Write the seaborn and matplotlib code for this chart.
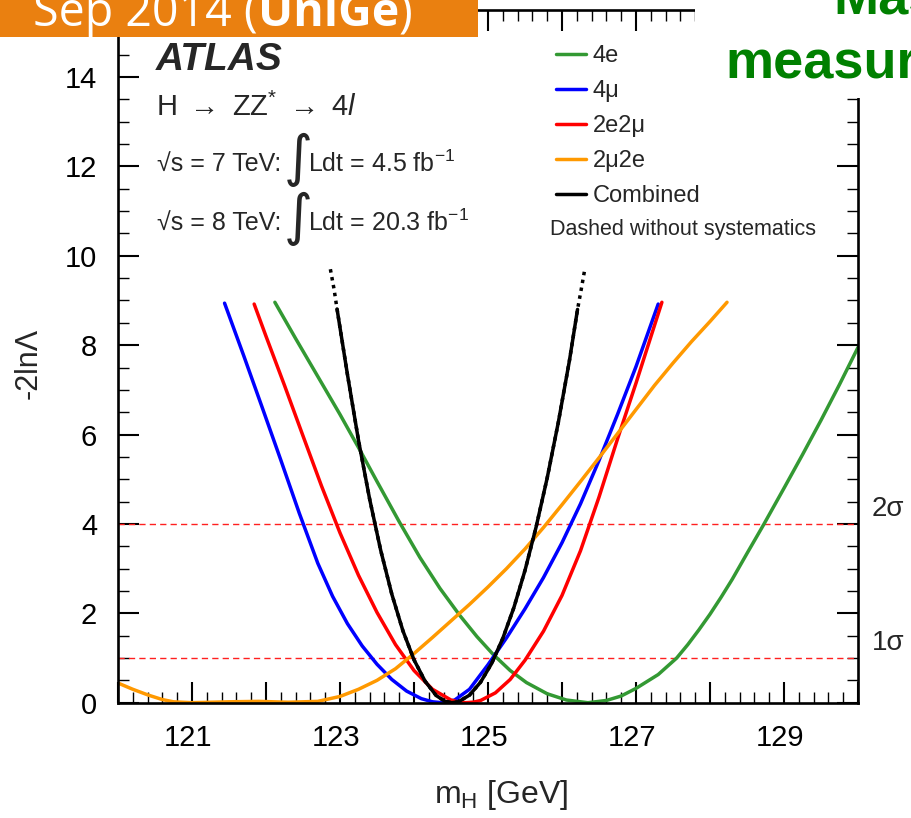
import matplotlib
matplotlib.use("Agg")
import matplotlib.pyplot as plt
import matplotlib.transforms as mtransforms
from matplotlib.lines import Line2D
from matplotlib.patches import Rectangle
from matplotlib.ticker import MultipleLocator, FixedLocator, FixedFormatter
import pandas as pd
import seaborn as sns

# ---------------------------------------------------------------------------
# -2 ln(Lambda) profile scans versus m_H for each decay channel
# ---------------------------------------------------------------------------
channels = ["4e", "4μ", "2e2μ", "2μ2e"]

mh_4e = [122.12, 122.4, 122.7, 123.0, 123.27, 123.5, 123.8, 124.08, 124.35, 124.62,
         124.85, 125.07, 125.3, 125.52, 125.8, 126.06, 126.35, 126.6, 126.8, 127.0,
         127.3, 127.55, 127.7, 127.85, 128.0, 128.15, 128.3, 128.5, 128.72, 129.0,
         129.25, 129.5, 129.75, 130.0]
nll_4e = [8.96, 8.15, 7.3, 6.45, 5.65, 4.95, 4.05, 3.25, 2.56, 1.95,
          1.48, 1.08, 0.72, 0.45, 0.2, 0.06, 0.0, 0.05, 0.15, 0.32,
          0.63, 1.0, 1.3, 1.63, 1.98, 2.36, 2.76, 3.34, 3.97, 4.8,
          5.55, 6.32, 7.12, 7.95]

mh_4mu = [121.44, 121.7, 121.95, 122.2, 122.45, 122.7, 122.9, 123.1, 123.3, 123.5,
          123.7, 123.9, 124.1, 124.25, 124.38, 124.55, 124.75, 125.0, 125.25, 125.5,
          125.75, 126.0, 126.25, 126.5, 126.75, 127.0, 127.3]
nll_4mu = [8.94, 7.76, 6.6, 5.43, 4.24, 3.12, 2.38, 1.77, 1.27, 0.86,
           0.52, 0.26, 0.09, 0.02, 0.0, 0.06, 0.3, 0.85, 1.45, 2.1,
           2.8, 3.58, 4.45, 5.42, 6.45, 7.52, 8.92]

mh_2e2mu = [121.84, 122.0, 122.25, 122.5, 122.75, 123.0, 123.25, 123.5, 123.75, 124.0,
            124.25, 124.5, 124.6, 124.7, 124.8, 124.9, 125.1, 125.3, 125.5, 125.75,
            126.0, 126.25, 126.5, 126.75, 127.0, 127.35]
nll_2e2mu = [8.92, 8.2, 7.1, 5.97, 4.85, 3.8, 2.85, 2.02, 1.3, 0.72,
             0.3, 0.06, 0.015, 0.0, 0.012, 0.05, 0.22, 0.52, 0.95, 1.6,
             2.4, 3.4, 4.6, 5.9, 7.15, 8.96]

mh_2mu2e = [120.0, 120.2, 120.41, 120.6, 120.75, 121.0, 121.5, 121.9, 122.3, 122.7,
            123.0, 123.25, 123.5, 123.75, 124.0, 124.25, 124.5, 124.75, 125.0, 125.25,
            125.5, 125.75, 126.0, 126.25, 126.5, 126.75, 127.0, 127.25, 127.5, 127.75,
            128.0, 128.23]
nll_2mu2e = [0.44, 0.3, 0.17, 0.07, 0.02, 0.0, 0.02, 0.03, 0.01, 0.03,
             0.14, 0.3, 0.5, 0.76, 1.1, 1.46, 1.83, 2.2, 2.59, 3.0,
             3.44, 3.92, 4.43, 4.95, 5.48, 6.02, 6.56, 7.1, 7.6, 8.08,
             8.53, 8.96]

# combined fit, with systematics (solid) and statistics only (dashed)
mh_comb = [122.96, 123.1, 123.25, 123.4, 123.55, 123.7, 123.85, 124.0, 124.15, 124.3,
           124.42, 124.51, 124.6, 124.75, 124.9, 125.05, 125.2, 125.35, 125.5, 125.65,
           125.8, 125.95, 126.1, 126.21]
nll_comb = [8.81, 7.35, 5.87, 4.56, 3.41, 2.43, 1.61, 0.96, 0.48, 0.16,
            0.03, 0.0, 0.02, 0.17, 0.46, 0.88, 1.44, 2.13, 2.96, 3.93,
            5.03, 6.27, 7.65, 8.8]
mh_comb_stat = [122.87, 122.92] + mh_comb + [126.26, 126.31]
nll_comb_stat = [9.7, 9.25] + nll_comb + [9.25, 9.72]

sigma_levels = [1, 4]
sigma_labels = ["1σ", "2σ"]

x_major = [120, 121, 122, 123, 124, 125, 126, 127, 128, 129, 130]
x_labelled = [121, 123, 125, 127, 129]
y_major = [0, 2, 4, 6, 8, 10, 12, 14]

colors = {"4e": "#339933", "4μ": "#0000ff", "2e2μ": "#ff0000", "2μ2e": "#ff9900"}

# ---------------------------------------------------------------------------
sns.set_theme(style="ticks")
plt.rcParams["font.family"] = ["Liberation Sans", "DejaVu Sans"]
plt.rcParams["mathtext.fontset"] = "custom"
plt.rcParams["mathtext.rm"] = "Liberation Sans"
plt.rcParams["mathtext.it"] = "Liberation Sans:italic"
plt.rcParams["mathtext.bf"] = "Liberation Sans:bold"

W, H = 911, 818
fig = plt.figure(figsize=(W / 100, H / 100), dpi=100)
fig.patch.set_facecolor("white")


def fx(px):
    return px / W


def fy(py):
    return 1 - py / H


ax_left, ax_right, ax_top, ax_bottom = 118, 858, 10, 702.7
ax = fig.add_axes([fx(ax_left), fy(ax_bottom), (ax_right - ax_left) / W, (ax_bottom - ax_top) / H])
ax.set_facecolor("white")

frames = []
for name, xs, ys in [("4e", mh_4e, nll_4e), ("4μ", mh_4mu, nll_4mu),
                     ("2e2μ", mh_2e2mu, nll_2e2mu), ("2μ2e", mh_2mu2e, nll_2mu2e)]:
    frames.append(pd.DataFrame({"mH": xs, "nll": ys, "channel": name}))
df = pd.concat(frames, ignore_index=True)

sns.lineplot(data=df, x="mH", y="nll", hue="channel", hue_order=channels,
             palette=colors, linewidth=2.5, sort=False, estimator=None,
             legend=False, ax=ax)
for ln in ax.lines:
    ln.set_solid_joinstyle("round")

comb_stat = pd.DataFrame({"mH": mh_comb_stat, "nll": nll_comb_stat})
comb = pd.DataFrame({"mH": mh_comb, "nll": nll_comb})
sns.lineplot(data=comb_stat, x="mH", y="nll", color="black", linewidth=2.5,
             sort=False, estimator=None, ax=ax, zorder=4)
ax.lines[-1].set_dashes((1.0, 1.3))
sns.lineplot(data=comb, x="mH", y="nll", color="black", linewidth=2.5,
             sort=False, estimator=None, ax=ax, zorder=5)
ax.lines[-1].set_solid_joinstyle("round")

# 1 sigma and 2 sigma reference lines
trans = mtransforms.blended_transform_factory(ax.transAxes, ax.transData)
for lvl, lab in zip(sigma_levels, sigma_labels):
    ax.axhline(lvl, color="#ff2020", lw=1.0, dashes=(4.5, 3.0), zorder=1.5)
    ax.text(1.019, lvl + 0.05, lab, transform=trans, ha="left", va="bottom",
            fontsize=20, clip_on=False)

ax.set_xlim(120, 130)
ax.set_ylim(0, 15.5)

ax.xaxis.set_major_locator(FixedLocator(x_major))
ax.xaxis.set_major_formatter(FixedFormatter([str(v) if v in x_labelled else "" for v in x_major]))
ax.xaxis.set_minor_locator(MultipleLocator(0.2))
ax.yaxis.set_major_locator(FixedLocator(y_major))
ax.yaxis.set_major_formatter(FixedFormatter([str(v) for v in y_major]))
ax.yaxis.set_minor_locator(MultipleLocator(0.5))

ax.tick_params(which="both", direction="in", top=True, right=True, colors="black")
ax.tick_params(which="major", length=15, width=1.5, labelsize=21, pad=15)
ax.tick_params(which="minor", length=8, width=1.0)
for side in ["left", "right", "top", "bottom"]:
    ax.spines[side].set_visible(True)
    ax.spines[side].set_linewidth(1.9)
    ax.spines[side].set_color("black")

shift = mtransforms.ScaledTranslation(-4 / 100, 0, fig.dpi_scale_trans)
for lab in ax.get_xticklabels():
    lab.set_transform(lab.get_transform() + shift)

ax.set_xlabel(r"m$_{\mathrm{H}}$ [GeV]", fontsize=23)
ax.xaxis.label.set(va="center", ha="center")
ax.xaxis.set_label_coords((501 - ax_left) / (ax_right - ax_left), (ax_bottom - 795) / (ax_bottom - ax_top))
ax.set_ylabel("-2lnΛ", fontsize=22)
ax.yaxis.label.set(va="center", ha="center")
ax.yaxis.set_label_coords((29 - ax_left) / (ax_right - ax_left), (ax_bottom - 363) / (ax_bottom - ax_top))

# legend
handles = [Line2D([], [], color=colors[c], lw=2.5) for c in channels]
handles.append(Line2D([], [], color="black", lw=2.5))
leg = ax.legend(handles, channels + ["Combined"], loc="upper left",
                bbox_to_anchor=(fx(556), fy(45)), bbox_transform=fig.transFigure,
                frameon=False, fontsize=17, handlelength=1.25, handletextpad=0.3,
                labelspacing=0.55, borderpad=0, borderaxespad=0)
fig.text(fx(550), fy(229), "Dashed without systematics", fontsize=15.5, va="center", ha="left")

# experiment labels
fig.text(fx(156), fy(60), "ATLAS", fontsize=28, fontweight="bold", style="italic", va="center")
fig.text(fx(156), fy(107), r"H $\rightarrow$ ZZ$^{*}$ $\rightarrow$ 4$\mathit{l}$", fontsize=21, va="center")
for yc, lumi_row in [(164, ("7", "4.5")), (223, ("8", "20.3"))]:
    fig.text(fx(157), fy(yc), "√s = %s TeV:" % lumi_row[0], fontsize=18, va="center")
    fig.text(fx(298), fy(yc - 4), "∫", fontsize=40, va="center", ha="center", family="DejaVu Sans")
    fig.text(fx(308), fy(yc), r"Ldt = %s fb$^{\mathregular{-1}}$" % lumi_row[1], fontsize=18, va="center")

# slide banner and title overlay
fig.add_artist(Rectangle((0, fy(37)), fx(478), 37 / H, transform=fig.transFigure,
                         facecolor="#ea8010", edgecolor="none", zorder=5))
fig.add_artist(Rectangle((fx(695), fy(98)), 1 - fx(695), 98 / H, transform=fig.transFigure,
                         facecolor="white", edgecolor="none", zorder=5))

t1 = fig.text(fx(33), fy(26), "Sep 2014 (", fontsize=33.5, color="white", family="Open Sans",
              va="baseline", zorder=6)
fig.canvas.draw()
r = fig.canvas.get_renderer()
bb = t1.get_window_extent(r)
t2 = fig.text(bb.x1 / W, fy(26), "UniGe", fontsize=33.5, color="white", family="Open Sans",
              fontweight="bold", va="baseline", zorder=6)
bb2 = t2.get_window_extent(r)
fig.text(bb2.x1 / W, fy(26), ")", fontsize=33.5, color="white", family="Open Sans",
         va="baseline", zorder=6)

fig.text(fx(833), fy(13), "Mass", fontsize=39, color="#008000", fontweight="bold",
         va="baseline", zorder=6)
fig.text(fx(725), fy(78), "measurement", fontsize=39, color="#008000", fontweight="bold",
         va="baseline", zorder=6)

fig.savefig("out.png", dpi=100)
